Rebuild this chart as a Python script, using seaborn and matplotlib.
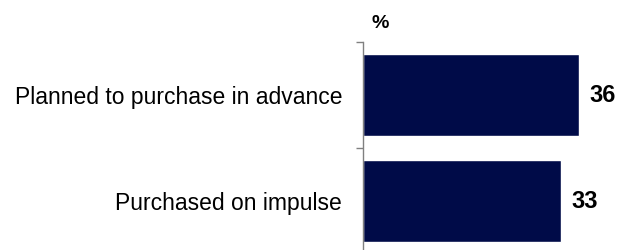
import seaborn as sns
import matplotlib.pyplot as plt
import pandas as pd

# Chart data
categories = ['Planned to purchase in advance', 'Purchased on impulse']
values = [36, 33]
unit_label = '%'

df = pd.DataFrame({'category': categories, 'value': values})

sns.set_style("white")
plt.rcParams['font.family'] = ['Liberation Sans', 'DejaVu Sans']
plt.rcParams['text.color'] = 'black'
plt.rcParams['ytick.labelcolor'] = 'black'

fig = plt.figure(figsize=(6.19, 2.5), dpi=100)
# axes: left edge at x=363px, top at y=42px, 6px per percent
ax = fig.add_axes([363 / 619, -4 / 250, 240 / 619, 212 / 250])

sns.barplot(data=df, x='value', y='category', orient='h', color='#000B48',
            saturation=1, width=0.78, ax=ax)

ax.set_xlim(0, 40)
ax.set_ylim(1.5, -0.5)
ax.set_xlabel('')
ax.set_ylabel('')
ax.set_xticks([])
ax.set_yticks([-0.5, 0.5, 1.5])
ax.set_yticklabels([])
ax.tick_params(axis='y', which='major', length=5, width=1, color='#808080', direction='out', left=True)
ax.set_yticks([0, 1], minor=True)
ax.set_yticklabels(categories, minor=True, fontsize=16.5, color='black')
ax.tick_params(axis='y', which='minor', length=0, pad=15)

for side in ['top', 'right', 'bottom']:
    ax.spines[side].set_visible(False)
ax.spines['left'].set_color('#808080')
ax.spines['left'].set_linewidth(1)

for i, v in enumerate(values):
    ax.text(v + 1.8, i, f'{v}', va='center', ha='left', fontsize=17, fontweight='bold', color='black')

fig.text(371 / 619, 1 - 24 / 250, unit_label, ha='left', va='center', fontsize=14, fontweight='bold', color='black')

fig.savefig('out.png', dpi=100, facecolor='white')
